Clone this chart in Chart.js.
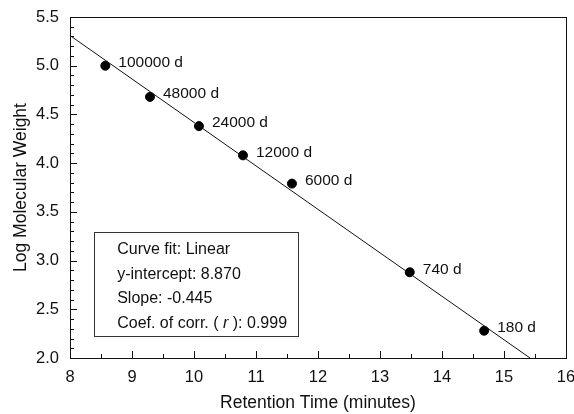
<!DOCTYPE html>
<html>
<head>
<meta charset="utf-8">
<script src="https://cdn.jsdelivr.net/npm/chart.js@4"></script>
<style>
  html, body { margin: 0; padding: 0; background: #fff; }
  #wrap { width: 574px; height: 414px; }
</style>
</head>
<body>
<div id="wrap"><canvas id="calib"></canvas></div>
<script>
// Calibration standards
const standardLabels = ['100000 d', '48000 d', '24000 d', '12000 d', '6000 d', '740 d', '180 d'];
const retentionTimes = [8.57, 9.29, 10.08, 10.79, 11.58, 13.48, 14.68];
const logMW = [5.00, 4.68, 4.38, 4.08, 3.79, 2.88, 2.28];

// Linear fit line end points
const fitX = [8.0, 15.42];
const fitY = [5.31, 2.0];

// Fit summary text
const fitText = ['Curve fit: Linear', 'y-intercept: 8.870', 'Slope: -0.445'];
const corrText = ['Coef. of corr. ( ', 'r', ' ): 0.999'];

const FONT = '"Liberation Sans", Arial, Helvetica, sans-serif';

// draw frame, inward ticks, point labels and the fit box
const decorPlugin = {
    id: 'decor',
    afterDatasetsDraw(chart) {
        const ctx = chart.ctx;
        const a = chart.chartArea;
        const xs = chart.scales.x, ys = chart.scales.y;
        ctx.save();
        ctx.strokeStyle = '#111';
        ctx.lineWidth = 1;
        ctx.strokeRect(Math.round(a.left) + 0.5, Math.round(a.top) + 0.5,
            Math.round(a.right - a.left), Math.round(a.bottom - a.top));

        // x ticks (major every 1, minor every 0.5)
        ctx.beginPath();
        for (let v = 8; v <= 16.001; v += 0.5) {
            const px = Math.round(xs.getPixelForValue(v)) + 0.5;
            const len = Math.abs(v - Math.round(v)) < 0.01 ? 7 : 4;
            ctx.moveTo(px, a.bottom);
            ctx.lineTo(px, a.bottom - len);
        }
        // y ticks (major every 0.5, minor every 0.1)
        for (let i = 0; i <= 35; i++) {
            const v = 2 + i * 0.1;
            const py = Math.round(ys.getPixelForValue(v)) + 0.5;
            const len = i % 5 === 0 ? 7 : 4;
            ctx.moveTo(a.left, py);
            ctx.lineTo(a.left + len, py);
        }
        ctx.stroke();

        // point labels
        ctx.fillStyle = '#111';
        ctx.font = '15.5px ' + FONT;
        ctx.textBaseline = 'middle';
        ctx.textAlign = 'left';
        standardLabels.forEach((t, i) => {
            const px = xs.getPixelForValue(retentionTimes[i]);
            const py = ys.getPixelForValue(logMW[i]);
            ctx.fillText(t, px + 13, py - 3);
        });

        // fit box
        const bx = xs.getPixelForValue(8.39), bx2 = xs.getPixelForValue(11.68);
        const by = ys.getPixelForValue(3.29), by2 = ys.getPixelForValue(2.225);
        ctx.fillStyle = '#fff';
        ctx.fillRect(bx, by, bx2 - bx, by2 - by);
        ctx.strokeStyle = '#333';
        ctx.strokeRect(Math.round(bx) + 0.5, Math.round(by) + 0.5, Math.round(bx2 - bx), Math.round(by2 - by));
        ctx.fillStyle = '#111';
        const tx = bx + 23;
        let ty = by + 17.5;
        ctx.font = '16px ' + FONT;
        fitText.forEach(t => { ctx.fillText(t, tx, ty); ty += 24.5; });
        let cx = tx;
        ctx.fillText(corrText[0], cx, ty);
        cx += ctx.measureText(corrText[0]).width;
        ctx.font = 'italic 16px ' + FONT;
        ctx.fillText(corrText[1], cx, ty);
        cx += ctx.measureText(corrText[1]).width;
        ctx.font = '16px ' + FONT;
        ctx.fillText(corrText[2], cx, ty);
        ctx.restore();
    }
};

const ctx = document.getElementById('calib').getContext('2d');
const calibChart = new Chart(ctx, {
    type: 'scatter',
    data: {
        datasets: [{
            label: 'Fit',
            data: fitX.map((x, i) => ({ x: x, y: fitY[i] })),
            showLine: true,
            borderColor: '#111',
            borderWidth: 1,
            pointRadius: 0,
            fill: false
        }, {
            label: 'Standards',
            data: retentionTimes.map((x, i) => ({ x: x, y: logMW[i] })),
            backgroundColor: '#000',
            borderColor: '#000',
            pointRadius: 4.5,
            pointHoverRadius: 4.5
        }]
    },
    options: {
        responsive: true,
        maintainAspectRatio: false,
        animation: false,
        layout: { padding: { top: 17, right: 8, left: 0, bottom: 0 } },
        plugins: {
            legend: { display: false },
            tooltip: { enabled: false }
        },
        scales: {
            x: {
                type: 'linear',
                min: 8, max: 16,
                grid: { display: false, drawTicks: false },
                border: { display: false },
                ticks: { stepSize: 1, padding: 10, color: '#111', font: { family: FONT, size: 16.5 } },
                title: {
                    display: true, text: 'Retention Time (minutes)', color: '#111',
                    font: { family: FONT, size: 17.5 }, padding: { top: 1, bottom: 0 }
                },
                afterFit(s) { s.height = 56; s.paddingLeft = 0; s.paddingRight = 0; }
            },
            y: {
                type: 'linear',
                min: 2, max: 5.5,
                grid: { display: false, drawTicks: false },
                border: { display: false },
                ticks: {
                    stepSize: 0.5, padding: 11, color: '#111',
                    font: { family: FONT, size: 16.5 },
                    callback: v => v.toFixed(1)
                },
                title: {
                    display: true, text: 'Log Molecular Weight', color: '#111',
                    font: { family: FONT, size: 17.5 }, padding: { top: 11, bottom: 0 }
                },
                afterFit(s) { s.width = 70; s.paddingTop = 0; s.paddingBottom = 0; }
            }
        }
    },
    plugins: [decorPlugin]
});
</script>
</body>
</html>
